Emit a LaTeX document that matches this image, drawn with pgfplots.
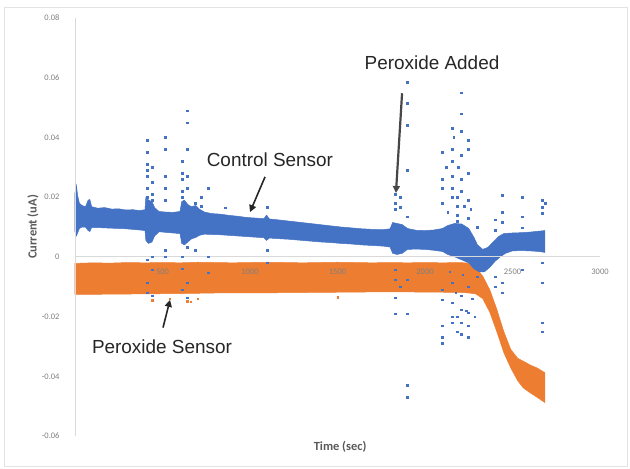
\documentclass[border=0pt]{standalone}
\usepackage{pgfplots}
\pgfplotsset{compat=1.18}
\usetikzlibrary{arrows.meta}
\usepackage{fontspec}
\setmainfont{Liberation Sans}
\newfontfamily\calfont{Carlito}
\definecolor{bblue}{HTML}{4472C4}
\definecolor{borange}{HTML}{ED7D31}
\definecolor{ticktxt}{HTML}{7F7F7F}
\definecolor{titletxt}{HTML}{595959}
\definecolor{annot}{HTML}{262626}
\begin{document}
\begin{tikzpicture}
\useasboundingbox (-75bp,-33bp) rectangle (555bp,436bp);
\draw[gray!22, line width=0.9bp] (-71bp,-30bp) rectangle (552bp,429bp);
\begin{axis}[
  axis on top,
  at={(0,0)}, anchor=south west,
  scale only axis, width=525bp, height=418bp,
  xmin=0, xmax=3000, ymin=-0.06, ymax=0.08,
  scaled y ticks=false,
  axis x line*=middle, axis y line*=left,
  axis line style={draw=gray!30, line width=0.8bp},
  major tick length=0pt,
  xtick={0,500,1000,1500,2000,2500,3000},
  xticklabels={0,500,1000,1500,2000,2500,3000},
  ytick={-0.06,-0.04,-0.02,0,0.02,0.04,0.06,0.08},
  yticklabels={-0.06,-0.04,-0.02,0,0.02,0.04,0.06,0.08},
  xticklabel style={font=\calfont\fontsize{8.5}{10}\selectfont, color=ticktxt, yshift=-9bp},
  yticklabel style={font=\calfont\fontsize{8.5}{10}\selectfont, color=ticktxt, xshift=-12bp},
  clip=false,
]
% Peroxide sensor band
\addplot[fill=borange, draw=borange, line width=0.5bp] coordinates {
(0,-0.0022)(100,-0.0020)(200,-0.0021)(300,-0.0019)(400,-0.0020)(500,-0.0019)(600,-0.0020)(700,-0.0018)(800,-0.0019)(900,-0.0020)(1000,-0.0019)(1100,-0.0018)(1200,-0.0019)(1300,-0.0020)(1400,-0.0019)(1500,-0.0018)(1600,-0.0019)(1700,-0.0020)(1800,-0.0019)(1900,-0.0020)(2000,-0.0019)(2100,-0.0020)(2200,-0.0019)(2250,-0.0021)(2290,-0.0035)(2330,-0.0065)(2370,-0.0110)(2410,-0.0175)(2450,-0.0250)(2490,-0.0310)(2530,-0.0340)(2570,-0.0352)(2600,-0.0362)(2640,-0.0372)(2685,-0.0388)
(2685,-0.0488)(2640,-0.0470)(2600,-0.0455)(2560,-0.0438)(2530,-0.0415)(2490,-0.0372)(2450,-0.0320)(2410,-0.0250)(2370,-0.0185)(2330,-0.0140)(2290,-0.0124)(2250,-0.0121)(2200,-0.0119)(2000,-0.0118)(1800,-0.0117)(1600,-0.0118)(1400,-0.0119)(1200,-0.0120)(1000,-0.0121)(800,-0.0121)(600,-0.0123)(400,-0.0124)(200,-0.0125)(0,-0.0126)
} -- cycle;
\addplot[draw=borange, line width=1bp] coordinates {(2,0.0245)(2,-0.003)};
\addplot[only marks, mark=square*, mark size=0.8bp, color=borange] coordinates {
(440,-0.0145)(540,-0.0140)(640,-0.0148)(660,-0.0150)(1500,-0.0135)(700,-0.0140)
};
% Control sensor band
\addplot[fill=bblue, draw=bblue, line width=0.5bp] coordinates {
(0,0.0215)(8,0.0240)(15,0.0205)(25,0.0180)(40,0.0172)(60,0.0168)(75,0.0190)(85,0.0192)(95,0.0168)(130,0.0163)(170,0.0165)(210,0.0160)(250,0.0161)(290,0.0157)(330,0.0158)(370,0.0155)(400,0.0158)(405,0.0200)(420,0.0190)(440,0.0185)(455,0.0165)(480,0.0152)(520,0.0150)(560,0.0149)(600,0.0152)(610,0.0185)(625,0.0190)(645,0.0175)(665,0.0168)(690,0.0172)(710,0.0160)(740,0.0150)(780,0.0145)(830,0.0143)(880,0.0139)(930,0.0136)(980,0.0132)(1030,0.0130)(1080,0.0128)(1095,0.0140)(1110,0.0127)(1160,0.0124)(1220,0.0120)(1280,0.0116)(1340,0.0112)(1400,0.0108)(1460,0.0104)(1520,0.0100)(1580,0.0097)(1640,0.0094)(1700,0.0092)(1760,0.0091)(1800,0.0094)(1815,0.0115)(1840,0.0112)(1870,0.0108)(1900,0.0095)(1950,0.0089)(2000,0.0088)(2050,0.0090)(2100,0.0095)(2130,0.0105)(2170,0.0112)(2210,0.0110)(2250,0.0095)(2280,0.0065)(2300,0.0040)(2330,0.0025)(2360,0.0032)(2390,0.0050)(2420,0.0068)(2450,0.0078)(2500,0.0080)(2550,0.0081)(2600,0.0083)(2650,0.0086)(2685,0.0088)
(2685,0.0015)(2650,0.0018)(2600,0.0020)(2550,0.0021)(2500,0.0020)(2460,0.0012)(2430,0.0000)(2400,-0.0015)(2370,-0.0035)(2340,-0.0050)(2310,-0.0050)(2280,-0.0040)(2250,-0.0020)(2210,-0.0010)(2170,0.0000)(2130,0.0008)(2100,0.0018)(2050,0.0022)(2000,0.0025)(1950,0.0026)(1900,0.0025)(1870,0.0012)(1840,0.0008)(1815,0.0012)(1800,0.0033)(1760,0.0036)(1700,0.0038)(1640,0.0040)(1580,0.0043)(1520,0.0045)(1460,0.0048)(1400,0.0050)(1340,0.0053)(1280,0.0056)(1220,0.0059)(1160,0.0061)(1110,0.0063)(1095,0.0055)(1080,0.0064)(1030,0.0066)(980,0.0068)(930,0.0070)(880,0.0072)(830,0.0074)(780,0.0075)(740,0.0076)(710,0.0072)(690,0.0065)(665,0.0060)(645,0.0050)(625,0.0040)(610,0.0045)(600,0.0078)(560,0.0080)(520,0.0082)(480,0.0084)(455,0.0070)(440,0.0050)(420,0.0045)(405,0.0055)(400,0.0088)(370,0.0090)(330,0.0092)(290,0.0094)(250,0.0095)(210,0.0096)(170,0.0097)(130,0.0098)(95,0.0098)(85,0.0085)(75,0.0088)(60,0.0100)(40,0.0100)(25,0.0095)(15,0.0080)(8,0.0070)(0,0.0085)
} -- cycle;
\addplot[only marks, mark=square*, mark size=0.8bp, color=bblue] coordinates {
(411,0.039)(411,0.035)(411,0.031)(411,0.029)(411,0.027)(411,0.023)(411,0.020)(411,-0.001)(411,-0.0087)(411,-0.012)
(440,0.030)(440,0.025)(440,0.021)(440,0.019)(440,0.000)(440,-0.0043)(440,-0.013)
(514,0.040)(514,0.036)(514,0.027)(514,0.023)(514,0.019)(514,0.0023)(514,0.000)
(611,0.032)(611,0.028)(611,0.026)(611,0.022)(611,0.020)(611,0.000)(611,-0.004)(611,-0.011)
(640,0.049)(640,0.045)(640,0.036)(640,0.027)(640,0.023)(640,0.0033)(640,-0.0087)(640,-0.0137)
(686,0.018)(686,0.011)(686,0.0023)
(720,0.020)(720,0.017)
(760,0.023)(760,0.013)(760,0.000)(760,-0.0053)
(857,0.0164)
(1097,0.0167)(1097,0.0023)(1097,-0.002)
(1829,0.021)(1829,0.018)(1829,0.016)(1829,-0.0043)(1829,-0.0077)(1829,-0.0137)(1829,-0.019)
(1857,0.020)(1857,0.0167)(1857,-0.010)
(1897,0.0585)(1897,0.0515)(1897,0.044)(1897,0.029)(1897,0.0134)(1897,-0.0077)(1897,-0.019)(1897,-0.043)(1897,-0.047)
(2097,0.035)(2097,0.026)(2097,0.023)(2097,0.018)(2097,-0.011)(2097,-0.0144)(2097,-0.023)(2097,-0.027)(2097,-0.029)
(2154,0.043)(2154,0.036)(2154,0.032)(2154,0.027)(2154,0.023)(2154,0.020)(2154,-0.0087)(2154,-0.0154)(2154,-0.020)(2154,-0.022)
(2206,0.055)(2206,0.048)(2206,0.042)(2206,0.034)(2206,0.026)(2206,0.022)(2206,-0.013)(2206,-0.0177)(2206,-0.022)(2206,-0.026)
(2246,0.039)(2246,0.036)(2246,0.028)(2246,0.019)(2246,0.013)(2246,-0.010)(2246,-0.0187)(2246,-0.023)(2246,-0.027)
(2183,0.020)(2183,0.017)(2183,0.014)(2183,0.012)(2183,-0.020)(2183,-0.025)
(2120,0.030)(2130,0.015)(2140,-0.005)(2165,0.040)(2175,-0.012)(2190,0.030)(2215,-0.006)(2225,0.017)(2235,-0.018)(2260,0.016)(2270,-0.014)(2285,-0.020)
(2297,0.010)(2297,-0.0067)
(2400,0.0124)(2400,0.009)(2400,-0.0067)(2400,-0.010)
(2440,0.0207)(2440,0.015)(2440,0.0117)(2440,-0.0087)(2440,-0.012)
(2554,0.020)(2554,0.0134)(2554,0.0097)(2554,-0.0043)
(2669,0.019)(2669,0.0167)(2669,0.0147)(2669,-0.002)(2669,-0.0087)(2669,-0.022)(2669,-0.025)
(2686,0.018)
};
% annotations
\node[font=\fontsize{19}{22}\selectfont, color=annot] at (axis cs:2040,0.0649) {Peroxide Added};
\draw[-{Triangle[length=7bp,width=7bp]}, line width=2.2bp, color=annot!85] (axis cs:1869,0.0548) -- (axis cs:1834,0.0214);
\node[font=\fontsize{19}{22}\selectfont, color=annot] at (axis cs:1114,0.0324) {Control Sensor};
\draw[-{Triangle[length=7bp,width=7bp]}, line width=1.6bp, color=annot] (axis cs:1086,0.0268) -- (axis cs:1000,0.0150);
\node[font=\fontsize{19}{22}\selectfont, color=annot] at (axis cs:497,-0.0301) {Peroxide Sensor};
\draw[-{Triangle[length=7bp,width=7bp]}, line width=1.6bp, color=annot] (axis cs:503,-0.0237) -- (axis cs:543,-0.0144);
% axis titles
\node[font=\calfont\bfseries\fontsize{12.5}{14}\selectfont, color=titletxt, rotate=90] at (axis cs:-240,0.010) {Current (uA)};
\node[font=\calfont\bfseries\fontsize{12.5}{14}\selectfont, color=titletxt] at (axis cs:1515,-0.0637) {Time (sec)};
\end{axis}
\end{tikzpicture}
\end{document}
